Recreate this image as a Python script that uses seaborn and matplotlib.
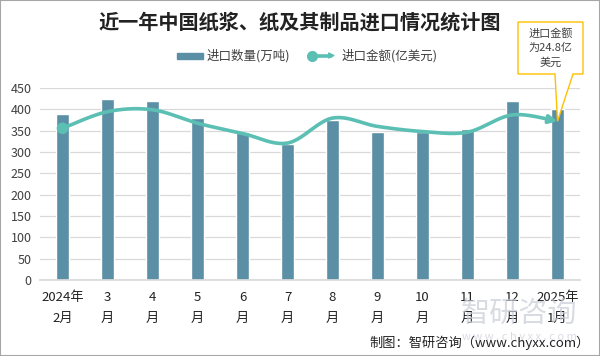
import matplotlib
matplotlib.use("Agg")
import matplotlib.pyplot as plt
from matplotlib.patches import Polygon, Rectangle
import numpy as np
import pandas as pd
import seaborn as sns

sns.set_theme(style="white")
plt.rcParams['font.family'] = ['Noto Sans CJK SC', 'DejaVu Sans']

months = ["2024年\n2月", "3\n月", "4\n月", "5\n月", "6\n月", "7\n月",
          "8\n月", "9\n月", "10\n月", "11\n月", "12\n月", "2025年\n1月"]
volume = [390, 425, 420, 380, 347, 319, 374, 346, 348, 354, 420, 401]   # 万吨
amount = [23.7, 26.3, 26.6, 24.5, 22.9, 21.4, 25.3, 24.0, 23.2, 23.1, 25.8, 24.8]  # 亿美元

bar_color = "#5b8fa6"
line_color = "#5cbfb4"
text_color = "#404040"

df = pd.DataFrame({"month": months, "volume": volume, "amount": amount})

W, H = 600, 356
fig = plt.figure(figsize=(W / 100, H / 100), dpi=100)


def fx(px):
    return px / W


def fy(py):
    return 1 - py / H


ax = fig.add_axes([fx(40), fy(280), fx(580) - fx(40), fy(88) - fy(280)])
sns.barplot(data=df, x="month", y="volume", color=bar_color, saturation=1,
            width=0.31, ax=ax)
ax.set_xlim(-0.5, len(months) - 0.5)
ax.set_ylim(0, 450)
ax.set_yticks(range(0, 451, 50))
ax.set_xlabel("")
ax.set_ylabel("")
ax.grid(axis="y", color="#d9d9d9", lw=0.9)
ax.set_axisbelow(True)
for s in ["top", "right", "left"]:
    ax.spines[s].set_visible(False)
ax.spines["bottom"].set_color("#d9d9d9")
ax.tick_params(axis="y", length=0, pad=6, labelsize=9, labelcolor=text_color)
ax.tick_params(axis="x", length=0, pad=8, labelsize=9.5, labelcolor="#222222")
for lab in ax.get_xticklabels():
    lab.set_linespacing(1.75)

# amount on a hidden secondary axis
ax2 = ax.twinx()
ax2.set_ylim(0, 30)
ax2.axis("off")

# smoothed line (Catmull-Rom through the points)
x = np.arange(len(amount), dtype=float)
y = np.array(amount, dtype=float)
px = np.concatenate([[x[0]], x, [x[-1]]])
py = np.concatenate([[y[0]], y, [y[-1]]])
xs, ys = [], []
t = np.linspace(0, 1, 25)
for i in range(1, len(px) - 2):
    p0, p1, p2, p3 = py[i - 1], py[i], py[i + 1], py[i + 2]
    q0, q1, q2, q3 = px[i - 1], px[i], px[i + 1], px[i + 2]
    for arr, a0, a1, a2, a3 in ((ys, p0, p1, p2, p3), (xs, q0, q1, q2, q3)):
        arr.extend(0.5 * ((2 * a1) + (-a0 + a2) * t
                          + (2 * a0 - 5 * a1 + 4 * a2 - a3) * t ** 2
                          + (-a0 + 3 * a1 - 3 * a2 + a3) * t ** 3))
xs, ys = np.array(xs), np.array(ys)
sns.lineplot(x=xs[:-6], y=ys[:-6], ax=ax2, color=line_color, lw=2.6, sort=False)
ax2.annotate("", xy=(xs[-1], ys[-1]), xytext=(xs[-7], ys[-7]),
             arrowprops=dict(arrowstyle="-|>", color=line_color, lw=2.6,
                             mutation_scale=12, shrinkA=0, shrinkB=0))
sns.scatterplot(x=[x[0]], y=[y[0]], ax=ax2, color=line_color, s=70,
                edgecolor="none", zorder=5)

# title
fig.text(0.5, fy(22), "近一年中国纸浆、纸及其制品进口情况统计图", ha="center",
         va="center", fontsize=14.5, fontweight="bold", color="#222222")

# legend
fig.add_artist(Rectangle((fx(177), fy(58.5)), fx(203) - fx(177), fy(52.5) - fy(58.5),
                         transform=fig.transFigure, color=bar_color))
fig.text(fx(207), fy(55.5), "进口数量(万吨)", va="center", fontsize=9, color=text_color)
fig.add_artist(plt.Line2D([fx(312), fx(331)], [fy(55.5), fy(55.5)],
                          transform=fig.transFigure, color=line_color, lw=2.6))
fig.add_artist(plt.Line2D([fx(312)], [fy(55.5)], transform=fig.transFigure,
                          marker="o", markersize=7, color=line_color))
ax.annotate("", xy=(fx(338), fy(55.5)), xytext=(fx(328), fy(55.5)),
            xycoords="figure fraction", textcoords="figure fraction",
            arrowprops=dict(arrowstyle="-|>", color=line_color, lw=1, mutation_scale=9))
fig.text(fx(342), fy(55.5), "进口金额(亿美元)", va="center", fontsize=9, color=text_color)

# callout for the last point
tip = fig.transFigure.inverted().transform(ax2.transData.transform((x[-1], y[-1])))
callout = Polygon([(fx(518), fy(22)), (fx(583), fy(22)), (fx(583), fy(74)),
                   (fx(573), fy(74)), (tip[0], tip[1]), (fx(555), fy(74)),
                   (fx(518), fy(74))], closed=True, transform=fig.transFigure,
                  facecolor="white", edgecolor="#ffc000", lw=1, zorder=10)
fig.add_artist(callout)
fig.text(fx(550.5), fy(48), "进口金额\n为24.8亿\n美元", ha="center", va="center",
         fontsize=8, linespacing=1.45, color=text_color, zorder=11)

# watermark and source
fig.text(fx(519), fy(314), "智研咨询", ha="center", va="center", fontsize=21,
         color="#c9cdd6", alpha=0.7)
fig.text(fx(519), fy(337), "w w w . c h y x x . c o m", ha="center", va="center",
         fontsize=8, color="#c9cdd6", alpha=0.7)
fig.text(fx(590), fy(343), "制图：智研咨询（www.chyxx.com）", ha="right", va="center",
         fontsize=9.5, color="#222222")

fig.add_artist(Rectangle((0, 0), 1, 1, transform=fig.transFigure, fill=False,
                         edgecolor="#a6a6a6", lw=1.5))

fig.savefig("out.png", dpi=100)
